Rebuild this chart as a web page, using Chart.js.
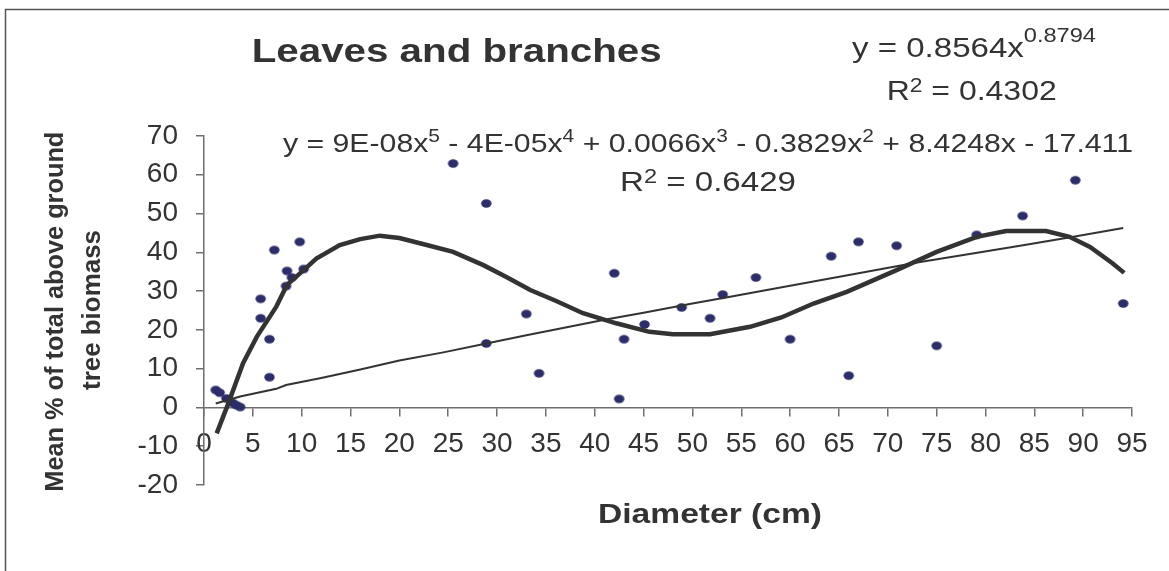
<!DOCTYPE html>
<html>
<head>
<meta charset="utf-8">
<title>Leaves and branches</title>
<style>
  html, body { margin: 0; padding: 0; background: #ffffff; }
  #wrap { width: 1169px; height: 571px; position: relative; }
  canvas { display: block; }
</style>
<script src="https://cdn.jsdelivr.net/npm/chart.js@4.4.1/dist/chart.umd.min.js"></script>
</head>
<body>
<div id="wrap"><canvas id="chart" width="1169" height="571"></canvas></div>
<script>
// Observed trees: stem diameter (cm) and leaves+branches share of above-ground biomass (%)
const diameterCm = [1.2, 1.6, 2.3, 2.9, 3.3, 3.7, 5.8, 5.8, 6.7, 6.7, 7.2, 8.5, 9.0, 8.4, 9.8, 10.2,
  25.5, 28.9, 28.9, 33.0, 34.3, 42.0, 42.5, 43.0, 45.1, 48.9, 51.8, 53.1, 56.5, 60.0,
  64.2, 66.0, 67.0, 70.9, 75.0, 79.1, 83.8, 89.2, 94.1];
const leafBranchPct = [4.5, 3.8, 2.3, 1.2, 0.6, 0.1, 28.0, 23.0, 17.6, 7.8, 40.6, 35.2, 33.5, 31.3, 42.7, 35.7,
  62.9, 52.6, 16.5, 24.1, 8.8, 34.6, 2.2, 17.6, 21.4, 25.8, 23.0, 29.1, 33.5, 17.6,
  39.0, 8.2, 42.7, 41.7, 15.9, 44.5, 49.4, 58.6, 26.8];

// Power trend line
const powerFitX = [1.2, 3.7, 7.4, 8.4, 12, 16, 20, 24.5, 28.9, 33, 37, 41, 45, 50, 54, 60, 67, 73, 79, 84, 89, 94.1];
const powerFitY = [1.0, 2.8, 4.8, 5.8, 7.6, 9.8, 12.1, 14.2, 16.5, 18.6, 20.6, 22.6, 24.4, 26.8, 28.6, 31.4, 34.6, 37.4, 39.8, 41.9, 44.0, 46.3];

// Fifth-order polynomial trend line
const polyFitX = [1.3, 2.5, 4.0, 5.4, 7.4, 8.5, 10.2, 11.5, 13.9, 16.0, 18.0, 20.0, 22.8, 25.5, 28.6, 31.0, 33.4, 36.0,
  38.8, 42.2, 45.6, 48.0, 51.8, 55.9, 59.1, 62.4, 65.8, 70.9, 75.0, 79.1, 82.1, 86.2, 88.6, 90.7, 93.0, 94.2];
const polyFitY = [-6.7, 1.1, 11.4, 18.2, 26.0, 31.6, 35.4, 38.4, 41.9, 43.4, 44.3, 43.7, 41.9, 40.1, 36.7, 33.6, 30.3, 27.5,
  24.3, 21.7, 19.5, 18.9, 18.9, 20.8, 23.2, 26.8, 29.8, 35.4, 40.1, 44.0, 45.5, 45.5, 44.0, 41.4, 37.2, 34.7];

// Axis ranges and step
const xRange = [0, 95];
const yRange = [-20, 70];
const xStep = 5;
const yStep = 10;

// Text
const chartTitle = 'Leaves and branches';
const xAxisTitle = 'Diameter (cm)';
const yAxisTitleLines = ['Mean % of total above ground', 'tree biomass'];
const powerEquation = [{ t: 'y = 0.8564x' }, { t: '0.8794', sup: true, raise: 0.54 }];
const powerR2 = [{ t: 'R' }, { t: '2', sup: true, raise: 0.3 }, { t: ' = 0.4302' }];
const polyEquation = [
  { t: 'y = 9E-08x' }, { t: '5', sup: true, raise: 0.4 },
  { t: ' - 4E-05x' }, { t: '4', sup: true, raise: 0.4 },
  { t: ' + 0.0066x' }, { t: '3', sup: true, raise: 0.4 },
  { t: ' - 0.3829x' }, { t: '2', sup: true, raise: 0.4 },
  { t: ' + 8.4248x - 17.411' }
];
const polyR2 = [{ t: 'R' }, { t: '2', sup: true, raise: 0.3 }, { t: ' = 0.6429' }];

const FONT = '"Liberation Sans", Arial, Helvetica, sans-serif';
const INK = '#333333';
const AXIS = '#6e6e6e';

function zip(xs, ys) { return xs.map((x, i) => ({ x: x, y: ys[i] })); }

// Slightly wide oval marker
function ovalMarker(rx, ry, color) {
  const c = document.createElement('canvas');
  c.width = Math.ceil(rx * 2) + 2;
  c.height = Math.ceil(ry * 2) + 2;
  const g = c.getContext('2d');
  g.fillStyle = color;
  g.beginPath();
  g.ellipse(c.width / 2, c.height / 2, rx, ry, 0, 0, Math.PI * 2);
  g.fill();
  return c;
}

// Draws a run of text segments (with optional superscripts), centred on x,
// fitted along its reading direction to a given length.
function drawRich(ctx, segs, o) {
  const weight = o.bold ? 'bold ' : '';
  const baseFont = weight + o.size + 'px ' + FONT;
  const supFont = weight + Math.round(o.size * 0.7) + 'px ' + FONT;
  ctx.save();
  let natural = 0;
  const widths = segs.map(s => {
    ctx.font = s.sup ? supFont : baseFont;
    const w = ctx.measureText(s.t).width;
    natural += w;
    return w;
  });
  const sx = o.width ? o.width / natural : 1;
  ctx.translate(o.x, o.y);
  if (o.rotate) ctx.rotate(o.rotate);
  ctx.scale(sx, 1);
  ctx.fillStyle = o.color || INK;
  ctx.textAlign = 'left';
  ctx.textBaseline = 'alphabetic';
  let cx = -natural / 2;
  segs.forEach((s, i) => {
    ctx.font = s.sup ? supFont : baseFont;
    ctx.fillText(s.t, cx, s.sup ? -o.size * (s.raise || 0.4) : 0);
    cx += widths[i];
  });
  ctx.restore();
}

const annotations = {
  id: 'annotations',
  afterDraw(chart) {
    const ctx = chart.ctx;
    // frame
    ctx.save();
    ctx.strokeStyle = '#555555';
    ctx.lineWidth = 1.5;
    ctx.strokeRect(5.5, 9.5, 1200, 600);
    ctx.restore();

    drawRich(ctx, [{ t: chartTitle }], { x: 456.7, y: 61.7, size: 34, bold: true, width: 410 });
    drawRich(ctx, powerEquation, { x: 974, y: 56.7, size: 28, width: 244 });
    drawRich(ctx, powerR2, { x: 971.7, y: 100, size: 28, width: 170 });
    drawRich(ctx, polyEquation, { x: 708, y: 152, size: 26, width: 850 });
    drawRich(ctx, polyR2, { x: 708, y: 191, size: 28, width: 176 });
    drawRich(ctx, [{ t: xAxisTitle }], { x: 710, y: 523, size: 28, bold: true, width: 224 });
    drawRich(ctx, [{ t: yAxisTitleLines[0] }], { x: 63.3, y: 311.7, size: 25, bold: true, width: 360, rotate: -Math.PI / 2 });
    drawRich(ctx, [{ t: yAxisTitleLines[1] }], { x: 100, y: 310, size: 25, bold: true, width: 160, rotate: -Math.PI / 2 });
  }
};

Chart.defaults.font.family = FONT;

new Chart(document.getElementById('chart'), {
  type: 'scatter',
  data: {
    datasets: [
      {
        label: 'Polynomial trend',
        data: zip(polyFitX, polyFitY),
        showLine: true,
        borderColor: INK,
        borderWidth: 4.5,
        pointRadius: 0,
        tension: 0,
        fill: false,
        order: 0
      },
      {
        label: 'Power trend',
        data: zip(powerFitX, powerFitY),
        showLine: true,
        borderColor: INK,
        borderWidth: 2,
        pointRadius: 0,
        tension: 0,
        fill: false,
        order: 1
      },
      {
        label: 'Leaves and branches',
        data: zip(diameterCm, leafBranchPct),
        showLine: false,
        pointStyle: ovalMarker(5.2, 4.2, '#2c2d6a'),
        pointRadius: 5,
        backgroundColor: '#2c2d6a',
        borderColor: '#2c2d6a',
        order: 2
      }
    ]
  },
  options: {
    responsive: false,
    animation: false,
    devicePixelRatio: 1,
    layout: { padding: { left: 0, top: 136, right: 37, bottom: 86 } },
    plugins: {
      legend: { display: false },
      title: { display: false },
      tooltip: { enabled: false }
    },
    scales: {
      x: {
        type: 'linear',
        position: { y: 0 },
        min: xRange[0],
        max: xRange[1],
        afterFit(scale) { scale.height = 0; },
        border: { display: true, color: AXIS, width: 1.5 },
        grid: { display: true, drawOnChartArea: false, drawTicks: true, tickLength: 8, color: AXIS, lineWidth: 1.5 },
        ticks: {
          stepSize: xStep,
          autoSkip: false,
          maxRotation: 0,
          padding: 15,
          color: INK,
          font: { size: 28, lineHeight: 1.0 }
        }
      },
      y: {
        type: 'linear',
        position: 'left',
        min: yRange[0],
        max: yRange[1],
        afterFit(scale) { scale.width = 204; },
        border: { display: true, color: AXIS, width: 1.5 },
        grid: { display: true, drawOnChartArea: false, drawTicks: true, tickLength: 8, color: AXIS, lineWidth: 1.5 },
        ticks: {
          stepSize: yStep,
          autoSkip: false,
          padding: 18,
          color: INK,
          font: { size: 28, lineHeight: 1.0 }
        }
      }
    }
  },
  plugins: [annotations]
});
</script>
</body>
</html>
